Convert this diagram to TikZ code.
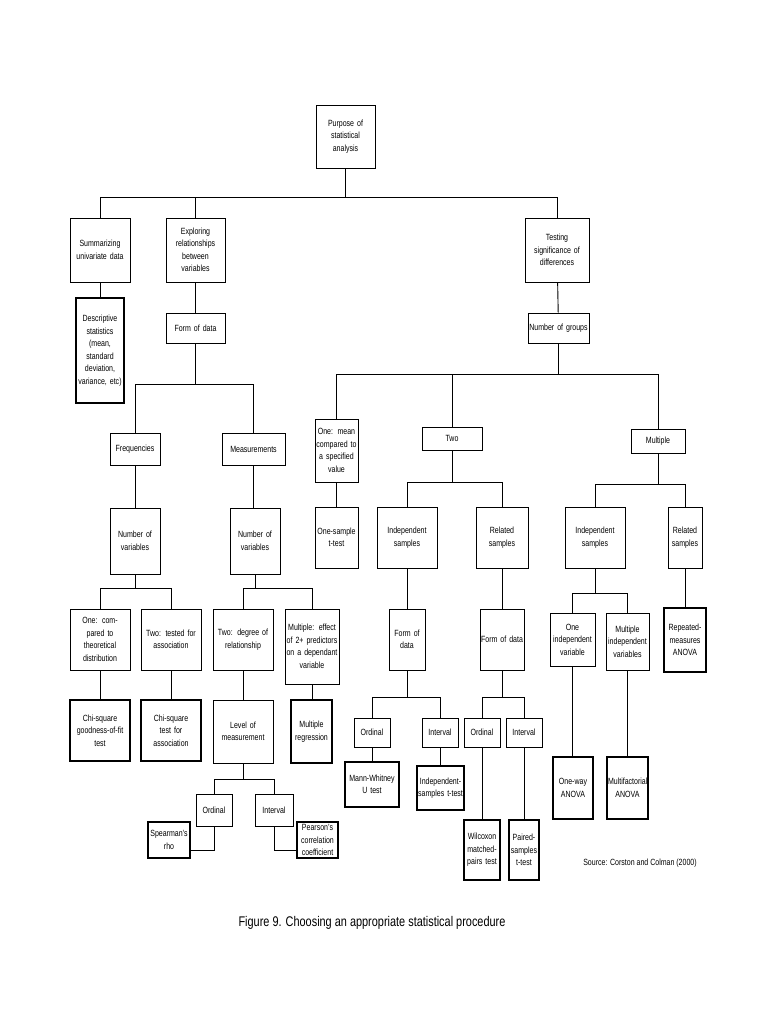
\documentclass[tikz,border=0pt]{standalone}
\usepackage{fontspec}
\setmainfont[FakeStretch=0.78]{Liberation Sans}
\begin{document}
\begin{tikzpicture}[x=1pt,y=-1pt,
  box/.style={draw,line width=0.9pt,align=center,inner sep=0pt,font=\fontsize{9}{12.5}\selectfont},
  thick box/.style={line width=2.8pt},
  ln/.style={line width=0.9pt}]
\newcommand\bx[7][]{\pgfmathsetmacro\bw{#5-#3}\pgfmathsetmacro\bh{#6-#4}\pgfmathsetmacro\tw{#5-#3-2}%
  \node[box,#1,minimum width=\bw pt,minimum height=\bh pt,text width=\tw pt] (#2) at ({(#3+#5)/2},{(#4+#6)/2}) {#7};}
\newcommand\tr[3]{\draw[ln] (#1.south) -- (#1.south|-0,#2) -| (#3.north);}
\fill[white] (0,0) rectangle (768,1024);
\useasboundingbox (0,0) rectangle (768,1024);
% level 0-1
\bx{purp}{316}{105}{375}{168}{Purpose of\\statistical analysis}
\bx{summ}{70}{218}{130}{282}{Summarizing\\univariate data}
\bx{expl}{166}{218}{225}{282}{Exploring\\relationships\\between variables}
\bx{test}{525}{218}{589}{282}{Testing\\significance of\\differences}
\tr{purp}{197}{summ}\tr{purp}{197}{expl}\tr{purp}{197}{test}
\bx[thick box]{desc}{76}{298}{124}{403}{Descriptive\\statistics\\(mean,\\standard\\deviation,\\variance, etc)}
\draw[ln] (summ) -- (desc);
\bx{form1}{166}{313}{225}{343}{Form of data}
\draw[ln] (expl) -- (form1);
\bx{ngr}{528}{313}{589}{343}{Number of groups}
\draw[ln] (test) -- (ngr);
% left branch
\bx{freq}{110}{433}{160}{465}{Frequencies}
\bx{meas}{222}{433}{285}{465}{Measurements}
\tr{form1}{384}{freq}\tr{form1}{384}{meas}
\bx{nv1}{110}{508}{160}{574}{Number of\\variables}
\bx{nv2}{230}{508}{280}{574}{Number of\\variables}
\draw[ln] (freq) -- (nv1); \draw[ln] (meas.south) -- (meas.south|-nv2.north);
\bx{one}{70}{609}{130}{670}{One: compared to\\theoretical\\distribution}
\bx{twot}{141}{609}{201}{670}{Two: tested for\\association}
\bx{twod}{213}{609}{273}{670}{Two: degree of\\relationship}
\bx{mult}{285}{609}{339}{684}{Multiple: effect\\of 2+ predictors\\on a dependant\\variable}
\tr{nv1}{588}{one}\tr{nv1}{588}{twot}\tr{nv2}{588}{twod}\tr{nv2}{588}{mult}
\bx[thick box]{chi1}{70}{700}{130}{761}{Chi-square\\goodness-of-fit\\test}
\bx[thick box]{chi2}{141}{700}{201}{761}{Chi-square test for\\association}
\bx{lev}{213}{700}{273}{763}{Level of\\measurement}
\bx[thick box]{mreg}{291}{700}{332}{763}{Multiple\\regression}
\draw[ln] (one) -- (chi1); \draw[ln] (twot) -- (chi2); \draw[ln] (twod) -- (lev); \draw[ln] (mult.south) -- (mult.south|-mreg.north);
\bx{ord1}{196}{794}{232}{826}{Ordinal}
\bx{int1}{255}{794}{293}{826}{Interval}
\tr{lev}{779}{ord1}\tr{lev}{779}{int1}
\bx[thick box]{spear}{148}{822}{190}{858}{Spearman's\\rho}
\bx[thick box]{pear}{297}{822}{338}{858}{Pearson's\\correlation\\coefficient}
\draw[ln] (ord1.south) -- (ord1.south|-0,850) -- (spear.east|-0,850);
\draw[ln] (int1.south) -- (int1.south|-0,850) -- (pear.west|-0,850);
% right branch
\bx{onem}{315}{419}{358}{482}{One: mean\\compared to\\a specified\\value}
\bx{two}{422}{427}{482}{450}{Two}
\bx{multi}{631}{429}{685}{453}{Multiple}
\draw[ln] (ngr.south) -- (ngr.south|-0,374);
\draw[ln] (onem.north) |- (multi.north|-0,374) -- (multi.north);
\draw[ln] (two.north) -- (two.north|-0,374);
\bx{oneS}{315}{507}{358}{568}{One-sample\\t-test}
\draw[ln] (onem) -- (oneS);
\bx{ind1}{377}{507}{437}{568}{Independent\\samples}
\bx{rel1}{476}{507}{528}{568}{Related\\samples}
\tr{two}{482}{ind1}\tr{two}{482}{rel1}
\bx{ind2}{565}{507}{625}{568}{Independent\\samples}
\bx{rel2}{668}{507}{702}{568}{Related\\samples}
\tr{multi}{484}{ind2}\tr{multi}{484}{rel2}
\bx{fd1}{389}{609}{425}{670}{Form of\\data}
\bx{fd2}{480}{609}{524}{670}{Form of data}
\draw[ln] (ind1) -- (fd1); \draw[ln] (rel1) -- (fd2);
\bx{oiv}{550}{613}{595}{666}{One\\independent\\variable}
\bx{miv}{606}{613}{649}{670}{Multiple\\independent\\variables}
\tr{ind2}{593}{oiv}\tr{ind2}{593}{miv}
\bx[thick box]{rep}{664}{608}{706}{672}{Repeated-\\measures\\ANOVA}
\draw[ln] (rel2.south) -- (rel2.south|-rep.north);
\bx{ord2}{354}{718}{390}{747}{Ordinal}
\bx{int2}{422}{718}{458}{747}{Interval}
\tr{fd1}{697}{ord2}\tr{fd1}{697}{int2}
\bx{ord3}{464}{718}{500}{747}{Ordinal}
\bx{int3}{506}{718}{542}{747}{Interval}
\tr{fd2}{697}{ord3}\tr{fd2}{697}{int3}
\bx[thick box]{mw}{345}{762}{399}{807}{Mann-Whitney\\U test}
\bx[thick box]{itt}{417}{766}{464}{810}{Independent-\\samples t-test}
\draw[ln] (ord2.south) -- (ord2.south|-mw.north); \draw[ln] (int2.south) -- (int2.south|-itt.north);
\bx[thick box]{wil}{464}{820}{500}{880}{Wilcoxon\\matched-\\pairs test}
\bx[thick box]{pst}{509}{820}{539}{880}{Paired-\\samples\\t-test}
\draw[ln] (ord3) -- (wil); \draw[ln] (int3.south) -- (int3.south|-pst.north);
\bx[thick box]{owa}{553}{757}{593}{819}{One-way\\ANOVA}
\bx[thick box]{mfa}{607}{757}{648}{819}{Multifactorial\\ANOVA}
\draw[ln] (oiv.south) -- (oiv.south|-owa.north); \draw[ln] (miv.south) -- (miv.south|-mfa.north);
\node[font=\fontsize{9}{11}\selectfont] (src) at (640,863) {Source: Corston and Colman (2000)};
\node[font=\fontsize{14}{16}\selectfont] (cap) at (372,923) {Figure 9. Choosing an appropriate statistical procedure};
\end{tikzpicture}
\end{document}
